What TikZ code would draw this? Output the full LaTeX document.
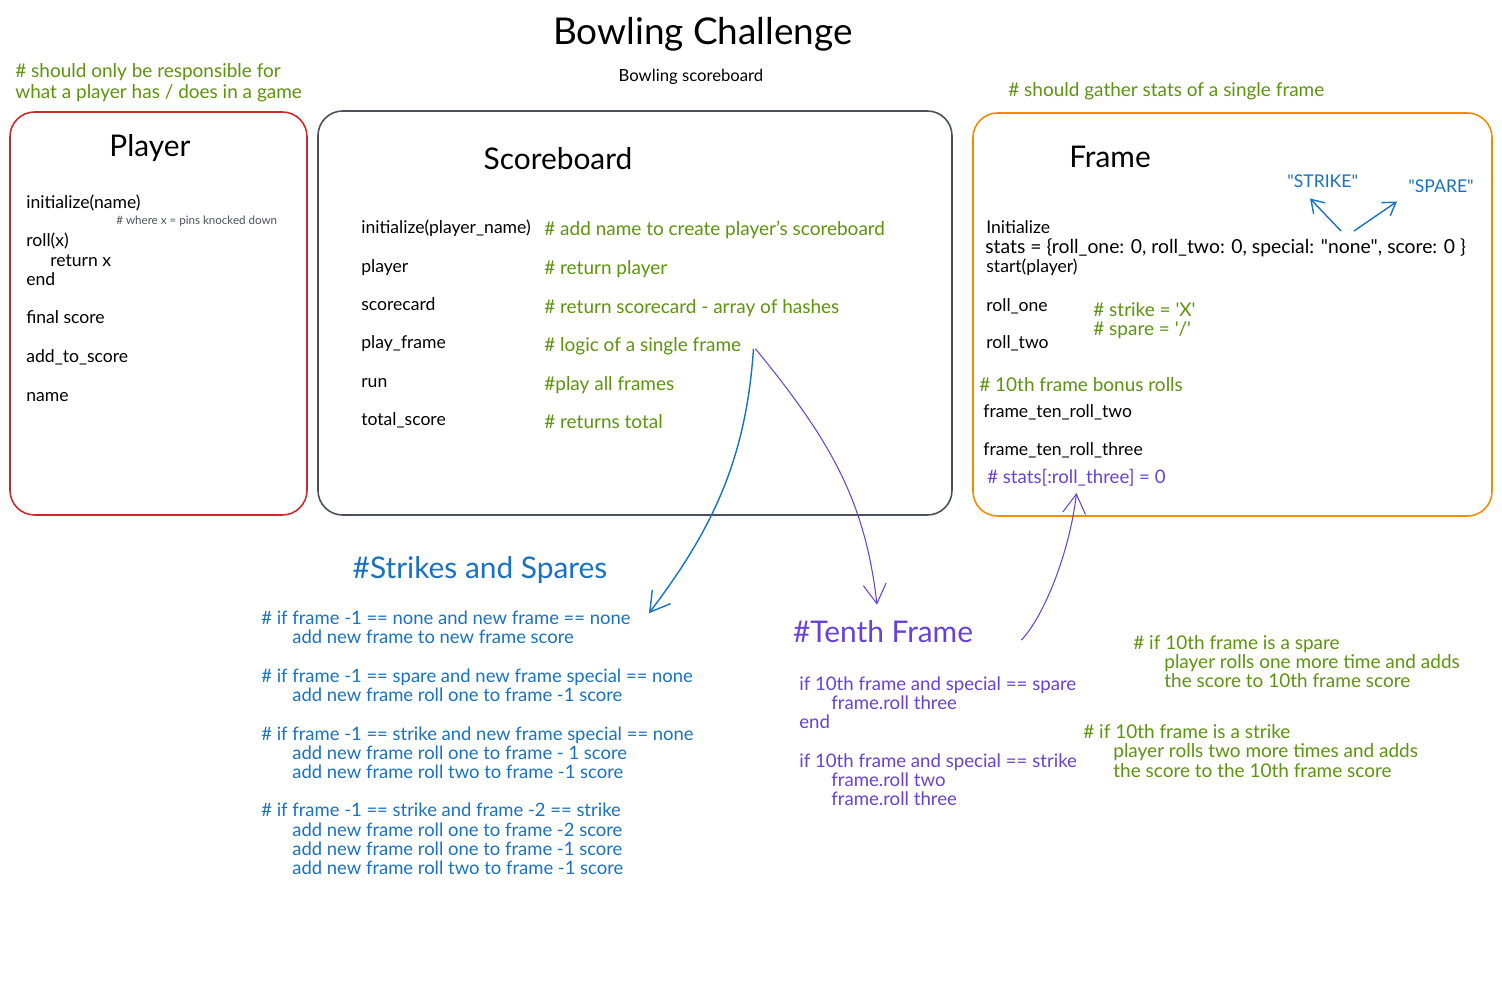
\documentclass[tikz,border=0pt]{standalone}
\usepackage{fontspec}
\setmainfont{Lato}
\usetikzlibrary{arrows.meta}
\begin{document}
\begin{tikzpicture}[x=0.02cm, y=-0.02cm,
    every node/.style={inner sep=0pt, anchor=base west, font=\fontsize{10}{12}\selectfont},
    box/.style={line width=0.9pt, rounded corners=14pt},
    heading/.style={anchor=base, font=\fontsize{17}{20}\selectfont},
    remark/.style={text=leaf, font=\fontsize{10.8}{13}\selectfont},
    strikeline/.style={text=sky, font=\fontsize{10.5}{12}\selectfont},
    tenthline/.style={text=grape, font=\fontsize{10.6}{12}\selectfont},
    link/.style={-{Straight Barb[length=11pt, width=13pt]}, line width=0.8pt},
    minilink/.style={-{Straight Barb[length=7pt, width=9pt]}, line width=0.8pt}]
  \definecolor{leaf}{RGB}{92,148,13}
  \definecolor{sky}{RGB}{25,113,194}
  \definecolor{grape}{RGB}{103,65,217}
  \definecolor{cherry}{RGB}{201,42,42}
  \definecolor{tangerine}{RGB}{240,140,0}
  \definecolor{slate}{RGB}{73,80,87}
  \useasboundingbox (0,0) rectangle (1502,984);

  % title
  \node[anchor=base, font=\fontsize{21}{25}\selectfont] (title) at (703,44) {Bowling Challenge};
  \node[anchor=base, font=\fontsize{9.5}{11}\selectfont] (subtitle) at (691,81) {Bowling scoreboard};

  % player
  \draw[box, cherry] (10,112) rectangle (307,515);
  \node[remark] (plnote1) at (15,77) {\# should only be responsible for};
  \node[remark] (plnote2) at (15,98) {what a player has / does in a game};
  \node[heading] (player) at (150,156) {Player};
  \node (plinit) at (26,208) {initialize(name)};
  \node[text=slate, font=\fontsize{6.6}{7}\selectfont] (plwhere) at (116,224) {\# where x = pins knocked down};
  \node (plroll) at (26,246) {roll(x)};
  \node (plreturn) at (50,266) {return x};
  \node (plend) at (26,285) {end};
  \node (plfinal) at (26,323) {final score};
  \node (pladd) at (26,362) {add\_to\_score};
  \node (plname) at (26,401) {name};

  % scoreboard
  \draw[box, slate] (318,111) rectangle (952,515);
  \node[heading] (scoreboard) at (558,169) {Scoreboard};
  \node (sbinit) at (361,233) {initialize(player\_name)};
  \node (sbplayer) at (361,272) {player};
  \node (sbcard) at (361,310) {scorecard};
  \node (sbplay) at (361,348) {play\_frame};
  \node (sbrun) at (361,387) {run};
  \node (sbtotal) at (361,425) {total\_score};
  \node[remark] (sbinitc) at (544,235) {\# add name to create player's scoreboard};
  \node[remark] (sbplayerc) at (544,274) {\# return player};
  \node[remark] (sbcardc) at (544,313) {\# return scorecard - array of hashes};
  \node[remark] (sbplayc) at (544,351) {\# logic of a single frame};
  \node[remark] (sbrunc) at (544,390) {\#play all frames};
  \node[remark] (sbtotalc) at (544,428) {\# returns total};

  % frame
  \draw[box, tangerine] (973,113) rectangle (1492,516);
  \node[remark] (frnote) at (1008,96) {\# should gather stats of a single frame};
  \node[heading] (frame) at (1110,167) {Frame};
  \node[text=sky] (strike) at (1287,187) {\textquotedbl STRIKE\textquotedbl};
  \node[text=sky] (spare) at (1408,192) {\textquotedbl SPARE\textquotedbl};
  \coordinate (forkl) at (1341,231);
  \coordinate (forkr) at (1354,231);
  \draw[minilink, sky] (forkl) -- ([shift={(23,11)}]strike.south west);
  \draw[minilink, sky] (forkr) -- ([shift={(-11,9)}]spare.south west);
  \node (frinit) at (986,233) {Initialize};
  \node[font=\fontsize{11}{13}\selectfont] (frstats) at (985,253) {stats = \{roll\_one: 0, roll\_two: 0, special: \textquotedbl none\textquotedbl, score: 0 \}};
  \node (frstart) at (986,272) {start(player)};
  \node (frone) at (986,311) {roll\_one};
  \node (frtwo) at (986,348) {roll\_two};
  \node[remark] (frx) at (1093,316) {\# strike = \textquotesingle X\textquotesingle};
  \node[remark] (frslash) at (1093,335) {\# spare = \textquotesingle/\textquotesingle};
  \node[remark] (frbonus) at (979,391) {\# 10th frame bonus rolls};
  \node (frtentwo) at (983,417) {frame\_ten\_roll\_two};
  \node (frtenthree) at (983,455) {frame\_ten\_roll\_three};
  \node[tenthline] (frstatsthree) at (987,483) {\# stats[:roll\_three] = 0};

  % strikes and spares
  \node[heading, text=sky] (strikes) at (480,578) {\#Strikes and Spares};
  \node[strikeline] (ss1) at (261,624) {\# if frame -1 == none and new frame == none};
  \node[strikeline] (ss2) at (292,643) {add new frame to new frame score};
  \node[strikeline] (ss3) at (261,682) {\# if frame -1 == spare and new frame special == none};
  \node[strikeline] (ss4) at (292,701) {add new frame roll one to frame -1 score};
  \node[strikeline] (ss5) at (261,740) {\# if frame -1 == strike and new frame special == none};
  \node[strikeline] (ss6) at (292,759) {add new frame roll one to frame - 1 score};
  \node[strikeline] (ss7) at (292,778) {add new frame roll two to frame -1 score};
  \node[strikeline] (ss8) at (261,816) {\# if frame -1 == strike and frame -2 == strike};
  \node[strikeline] (ss9) at (292,836) {add new frame roll one to frame -2 score};
  \node[strikeline] (ss10) at (292,855) {add new frame roll one to frame -1 score};
  \node[strikeline] (ss11) at (292,874) {add new frame roll two to frame -1 score};

  % tenth frame
  \node[heading, text=grape] (tenth) at (883,642) {\#Tenth Frame};
  \node[tenthline] (tf1) at (799,690) {if 10th frame and special == spare};
  \node[tenthline] (tf2) at (831,709) {frame.roll three};
  \node[tenthline] (tf3) at (799,728) {end};
  \node[tenthline] (tf4) at (799,767) {if 10th frame and special == strike};
  \node[tenthline] (tf5) at (831,786) {frame.roll two};
  \node[tenthline] (tf6) at (831,805) {frame.roll three};
  \node[remark] (tn1) at (1133,649) {\# if 10th frame is a spare};
  \node[remark] (tn2) at (1164,668) {player rolls one more time and adds};
  \node[remark] (tn3) at (1164,687) {the score to 10th frame score};
  \node[remark] (tn4) at (1083,738) {\# if 10th frame is a strike};
  \node[remark] (tn5) at (1113,757) {player rolls two more times and adds};
  \node[remark] (tn6) at (1113,777) {the score to the 10th frame score};

  % connectors
  \draw[link, sky] ([shift={(12,3)}]sbplayc.east) .. controls (746,460) and (712,530) .. ([shift={(18,-4)}]ss1.east);
  \draw[link, grape, line width=0.6pt] ([shift={(14,3)}]sbplayc.east) .. controls (830,440) and (865,500) .. ([shift={(-6,-15)}]tenth.north);
  \draw[link, grape, line width=0.6pt] ([shift={(48,9)}]tenth.east) .. controls (1045,615) and (1070,550) .. ([yshift=-4pt]frstatsthree.south);
\end{tikzpicture}
\end{document}
